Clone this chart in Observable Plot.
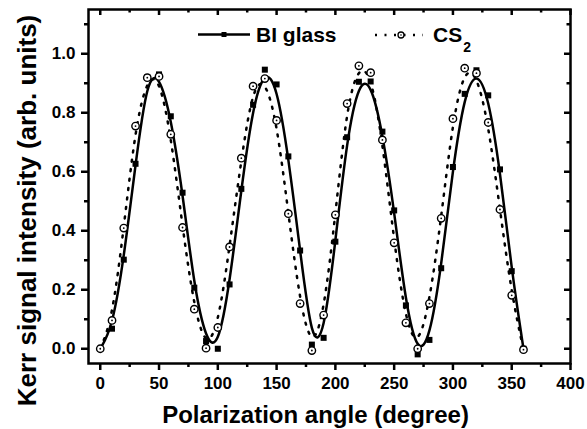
<!DOCTYPE html>
<html>
<head>
<meta charset="utf-8">
<script src="https://cdn.jsdelivr.net/npm/d3@7"></script>
<script src="https://cdn.jsdelivr.net/npm/@observablehq/plot@0.6"></script>
<style>
  html, body { margin: 0; padding: 0; background: #fff; }
  #chart { width: 587px; height: 429px; }
</style>
</head>
<body>
<div id="chart"></div>
<script>
// ---- data ----
const angles = [0,10,20,30,40,50,60,70,80,90,100,110,120,130,140,150,160,170,180,190,200,210,220,230,240,250,260,270,280,290,300,310,320,330,340,350,360];
const biGlass = [0.0,0.068,0.302,0.627,0.92,0.93,0.788,0.529,0.207,0.026,0.0,0.218,0.542,0.827,0.946,0.896,0.652,0.333,0.014,0.037,0.363,0.717,0.905,0.906,0.736,0.469,0.147,-0.019,0.030,0.273,0.616,0.864,0.944,0.859,0.608,0.263,0.0];
const cs2 = [0.0,0.096,0.409,0.755,0.919,0.923,0.727,0.411,0.134,0.002,0.072,0.345,0.646,0.890,0.916,0.774,0.458,0.153,-0.006,0.114,0.454,0.831,0.959,0.936,0.708,0.359,0.088,0.0,0.153,0.442,0.780,0.951,0.934,0.767,0.472,0.181,-0.003];
const xTicks = [0,50,100,150,200,250,300,350,400];
const xMinorTicks = [25,75,125,175,225,275,325,375];
const yTicks = [0,0.2,0.4,0.6,0.8,1.0];
const yMinorTicks = [0.1,0.3,0.5,0.7,0.9,1.1];
const seriesNames = ["BI glass", "CS"];
const xLabel = "Polarization angle (degree)";
const yLabel = "Kerr signal intensity (arb. units)";

const bi = angles.map((a, i) => ({angle: a, value: biGlass[i]}));
const cs = angles.map((a, i) => ({angle: a, value: cs2[i]}));

const font = "'Liberation Sans', Arial, sans-serif";
const W = 587, H = 429, ML = 88, MR = 17, MT = 9, MB = 66;
const dots = "2,7.5";

const plot = Plot.plot({
  width: W, height: H,
  marginLeft: ML, marginRight: MR, marginTop: MT, marginBottom: MB,
  style: {fontFamily: font, fontWeight: "bold", fontSize: "17px", background: "#fff", color: "#000", overflow: "visible"},
  x: {domain: [-10, 400]},
  y: {domain: [-0.05, 1.15]},
  marks: [
    // bottom axis (outward ticks)
    Plot.axisX({ticks: xTicks, tickSize: 7, tickPadding: 6, strokeWidth: 2.5, label: null, tickFormat: d => String(d), fontSize: 17}),
    Plot.axisX({ticks: xMinorTicks, tickSize: 4, strokeWidth: 2.5, text: null, label: null}),
    // top mirror (inward ticks)
    Plot.axisX({anchor: "bottom", frameAnchor: "top", ticks: xTicks, tickSize: 6, strokeWidth: 2.5, text: null, label: null}),
    Plot.axisX({anchor: "bottom", frameAnchor: "top", ticks: xMinorTicks, tickSize: 3.5, strokeWidth: 2.5, text: null, label: null}),
    // left axis (outward ticks)
    Plot.axisY({ticks: yTicks, tickSize: 7, tickPadding: 6, strokeWidth: 2.5, label: null, tickFormat: d => d.toFixed(1), fontSize: 17}),
    Plot.axisY({ticks: yMinorTicks, tickSize: 4, strokeWidth: 2.5, text: null, label: null}),
    // right mirror (inward ticks)
    Plot.axisY({anchor: "left", frameAnchor: "right", ticks: yTicks, tickSize: 6, strokeWidth: 2.5, text: null, label: null}),
    Plot.axisY({anchor: "left", frameAnchor: "right", ticks: yMinorTicks, tickSize: 3.5, strokeWidth: 2.5, text: null, label: null}),
    Plot.frame({stroke: "#000", strokeWidth: 2.5}),
    // axis titles
    Plot.text([xLabel], {frameAnchor: "bottom", textAnchor: "middle", dx: -14, dy: 59, lineAnchor: "bottom", fontSize: 24, fontWeight: "bold", text: d => d}),
    Plot.text([yLabel], {frameAnchor: "left", textAnchor: "middle", rotate: -90, dx: -53, dy: 24, lineAnchor: "bottom", fontSize: 26, fontWeight: "bold", text: d => d}),
    // series
    Plot.line(bi, {x: "angle", y: "value", curve: "basis", stroke: "#000", strokeWidth: 2.5}),
    Plot.line(cs, {x: "angle", y: "value", curve: "basis", stroke: "#000", strokeWidth: 2.5, strokeDasharray: dots}),
    Plot.dot(bi, {x: "angle", y: "value", symbol: "square", r: 3.4, fill: "#000", stroke: null}),
    Plot.dot(cs, {x: "angle", y: "value", symbol: "circle", r: 3.7, fill: "#fff", stroke: "#000", strokeWidth: 1.4}),
    Plot.dot(cs, {x: "angle", y: "value", symbol: "circle", r: 0.9, fill: "#000", stroke: null})
  ]
});

document.getElementById("chart").appendChild(plot);

// ---- legend (inside the frame, top) ----
const svg = d3.select(plot);
const lg = svg.append("g").attr("font-family", font).attr("font-weight", "bold")
  .attr("fill", "#000").attr("text-anchor", "start");
// BI glass entry
lg.append("line").attr("x1", 198).attr("x2", 250).attr("y1", 34.5).attr("y2", 34.5)
  .attr("stroke", "#000").attr("stroke-width", 2.5);
lg.append("rect").attr("x", 221.5).attr("y", 32).attr("width", 5).attr("height", 5).attr("fill", "#000");
lg.append("text").attr("x", 256).attr("y", 41.5).attr("font-size", 21).text(seriesNames[0]);
// CS2 entry
lg.append("line").attr("x1", 375).attr("x2", 423).attr("y1", 35).attr("y2", 35)
  .attr("stroke", "#000").attr("stroke-width", 2.5).attr("stroke-dasharray", dots);
lg.append("circle").attr("cx", 401).attr("cy", 35).attr("r", 3).attr("fill", "#fff").attr("stroke", "#000").attr("stroke-width", 1.3);
lg.append("circle").attr("cx", 401).attr("cy", 35).attr("r", 0.8).attr("fill", "#000");
const t2 = lg.append("text").attr("x", 433).attr("y", 41.5).attr("font-size", 21).text(seriesNames[1]);
t2.append("tspan").attr("font-size", 14).attr("dy", 10).attr("dx", 1).text("2");
</script>
</body>
</html>
